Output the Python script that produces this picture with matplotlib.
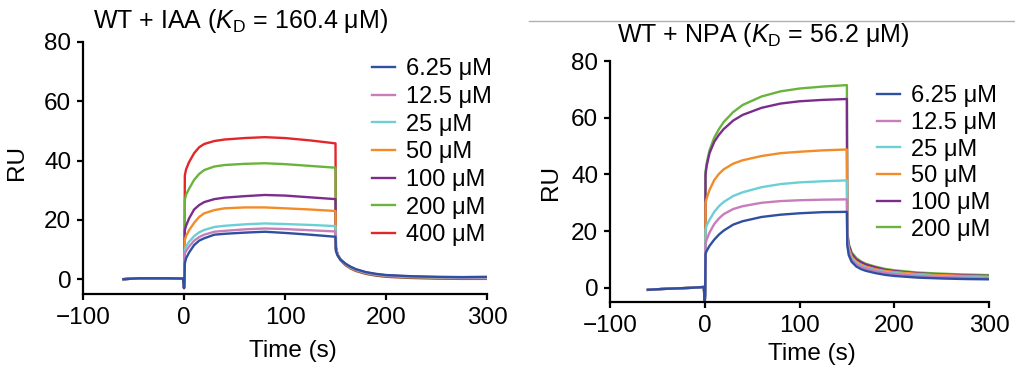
import matplotlib.pyplot as plt
import numpy as np
from matplotlib.lines import Line2D

plt.rcParams['font.family'] = ['Liberation Sans', 'DejaVu Sans']
plt.rcParams['mathtext.fontset'] = 'custom'
plt.rcParams['mathtext.rm'] = 'Liberation Sans'
plt.rcParams['mathtext.it'] = 'Liberation Sans:italic'

# ---- data ----
# baseline before injection
base_t = [-60, -45, -30, -15, -1, 0, 0.4]
iaa_base = [0.0, 0.3, 0.3, 0.3, 0.2, -3.0, -1.0]
npa_base = [-0.7, -0.4, -0.2, 0.0, 0.3, -5.0, -2.0]

# association phase
assoc_t = [0.8, 2, 5, 10, 15, 20, 30, 40, 60, 80, 100, 125, 150]
# dissociation phase
diss_t = [150.4, 152, 155, 160, 165, 170, 180, 190, 200, 225, 250, 275, 300]

iaa_labels = ['6.25 μM', '12.5 μM', '25 μM', '50 μM', '100 μM', '200 μM', '400 μM']
iaa_colors = ['#2f4fa0', '#c87dbb', '#6ccfd6', '#f28c28', '#7b2d8e', '#6ab43e', '#e3262a']
iaa_assoc = [
    [5.3, 7.0, 9.0, 11.5, 13.0, 13.8, 15.0, 15.3, 15.7, 16.0, 15.6, 15.0, 14.3],
    [8.7, 9.5, 11.0, 13.0, 14.2, 15.0, 16.0, 16.3, 16.8, 17.1, 16.9, 16.5, 16.1],
    [9.8, 11.0, 12.6, 14.5, 15.8, 16.6, 17.6, 18.0, 18.5, 18.8, 18.6, 18.3, 17.9],
    [13.2, 14.5, 16.5, 19.0, 21.0, 22.2, 23.3, 23.9, 24.2, 24.2, 23.9, 23.5, 23.0],
    [16.6, 18.0, 20.5, 23.5, 25.0, 26.0, 27.0, 27.5, 28.0, 28.4, 28.2, 27.6, 27.0],
    [26.7, 28.5, 30.5, 33.5, 35.5, 36.8, 38.0, 38.5, 38.9, 39.1, 38.8, 38.2, 37.6],
    [35.0, 37.0, 39.5, 42.5, 44.5, 45.6, 46.6, 47.1, 47.6, 47.9, 47.6, 46.8, 45.8],
]
iaa_diss = [
    [9.5, 8.0, 6.6, 5.2, 4.2, 3.4, 2.4, 1.8, 1.4, 1.0, 0.8, 0.7, 0.8],
    [9.8, 8.1, 6.6, 5.1, 4.1, 3.3, 2.3, 1.7, 1.3, 0.9, 0.7, 0.6, 0.6],
    [10.0, 8.2, 6.6, 5.1, 4.0, 3.2, 2.2, 1.6, 1.2, 0.8, 0.6, 0.5, 0.5],
    [10.2, 8.3, 6.6, 5.0, 3.9, 3.1, 2.1, 1.5, 1.1, 0.7, 0.5, 0.4, 0.4],
    [10.4, 8.3, 6.5, 4.9, 3.8, 3.0, 2.0, 1.4, 1.0, 0.6, 0.4, 0.3, 0.3],
    [10.6, 8.4, 6.5, 4.8, 3.7, 2.9, 1.9, 1.3, 0.9, 0.5, 0.3, 0.2, 0.2],
    [10.8, 8.4, 6.4, 4.7, 3.6, 2.8, 1.8, 1.2, 0.8, 0.4, 0.2, 0.1, 0.1],
]

npa_labels = ['6.25 μM', '12.5 μM', '25 μM', '50 μM', '100 μM', '200 μM']
npa_colors = ['#2f4fa0', '#c87dbb', '#6ccfd6', '#f28c28', '#7b2d8e', '#6ab43e']
npa_assoc = [
    [12.0, 13.0, 14.8, 17.0, 18.8, 20.2, 22.3, 23.5, 25.0, 25.8, 26.3, 26.7, 26.8],
    [15.5, 17.0, 19.5, 22.5, 24.5, 26.0, 27.8, 28.8, 30.0, 30.6, 30.9, 31.1, 31.2],
    [20.5, 22.0, 24.0, 26.8, 28.8, 30.3, 32.4, 33.7, 35.5, 36.6, 37.2, 37.6, 37.9],
    [30.0, 31.5, 34.5, 38.0, 40.2, 41.8, 43.8, 45.0, 46.5, 47.5, 48.0, 48.5, 48.8],
    [40.0, 43.0, 47.5, 51.5, 54.0, 56.0, 59.0, 61.0, 63.5, 65.0, 65.8, 66.3, 66.6],
    [41.0, 44.0, 48.5, 53.0, 56.0, 58.5, 62.0, 64.5, 67.5, 69.3, 70.3, 71.0, 71.5],
]
npa_diss = [
    [15.0, 11.5, 9.2, 7.5, 6.6, 6.0, 5.2, 4.6, 4.2, 3.6, 3.3, 3.1, 3.0],
    [16.0, 12.5, 10.0, 8.3, 7.4, 6.8, 5.9, 5.3, 4.9, 4.2, 3.8, 3.6, 3.4],
    [17.0, 13.0, 10.5, 8.8, 7.8, 7.1, 6.2, 5.6, 5.2, 4.5, 4.1, 3.8, 3.6],
    [18.0, 14.0, 11.0, 9.2, 8.2, 7.5, 6.6, 6.0, 5.6, 4.9, 4.5, 4.2, 4.0],
    [19.0, 15.0, 12.0, 10.0, 9.0, 8.2, 7.2, 6.4, 5.9, 5.1, 4.7, 4.4, 4.2],
    [20.0, 15.5, 12.5, 10.5, 9.3, 8.5, 7.5, 6.7, 6.2, 5.4, 5.0, 4.7, 4.5],
]


def draw(ax, base, assoc, diss, labels, colors, title, ttl_xy, ylab_xy, xlab_xy, leg_xy, lsp):
    t = np.concatenate([base_t, assoc_t, diss_t])
    handles = []
    for i in reversed(range(len(labels))):
        y = np.concatenate([base, assoc[i], diss[i]])
        h, = ax.plot(t, y, color=colors[i], lw=1.7, label=labels[i])
        handles.insert(0, h)
    ax.set_xlim(-100, 300)
    ax.set_ylim(-5, 80)
    ax.set_xticks([-100, 0, 100, 200, 300])
    ax.set_xticklabels(['\u2212100', '0', '100', '200', '300'])
    ax.set_yticks([0, 20, 40, 60, 80])
    for s in ['top', 'right']:
        ax.spines[s].set_visible(False)
    for s in ['left', 'bottom']:
        ax.spines[s].set_linewidth(1.6)
    ax.tick_params(labelsize=17.5, width=1.6, length=4.5)
    ax.tick_params(axis='y', pad=4)
    ax.tick_params(axis='x', pad=5)
    ax.set_xlabel('Time (s)', fontsize=17.5)
    ax.set_ylabel('RU', fontsize=17.5)
    ax.yaxis.set_label_coords(*ylab_xy)
    ax.xaxis.set_label_coords(*xlab_xy)
    ax.text(ttl_xy[0], ttl_xy[1], title, transform=ax.transAxes, fontsize=18,
            ha='left', va='baseline')
    ax.legend(handles=handles, frameon=False, fontsize=17, loc='upper left',
              bbox_to_anchor=leg_xy, handlelength=1.0, handletextpad=0.45,
              labelspacing=lsp, borderaxespad=0, borderpad=0)


fig = plt.figure(figsize=(10.15, 3.73), dpi=100)
ax1 = fig.add_axes([0.0818, 0.2118, 0.398, 0.6756])
ax2 = fig.add_axes([0.601, 0.1903, 0.3734, 0.6461])

draw(ax1, iaa_base, iaa_assoc, iaa_diss, iaa_labels, iaa_colors,
     'WT + IAA ($K_{\\mathrm{D}}$ = 160.4 μM)', (0.025, 1.056),
     (-0.136, 0.52), (0.52, -0.183), (0.715, 0.935), 0.24)
draw(ax2, npa_base, npa_assoc, npa_diss, npa_labels, npa_colors,
     'WT + NPA ($K_{\\mathrm{D}}$ = 56.2 μM)', (0.018, 1.079),
     (-0.127, 0.494), (0.533, -0.17), (0.704, 0.9), 0.2)

fig.add_artist(Line2D([0.521, 1.0], [0.944, 0.944], transform=fig.transFigure,
                      color='#b0b0b0', lw=1))

fig.savefig('out.png', dpi=100)
